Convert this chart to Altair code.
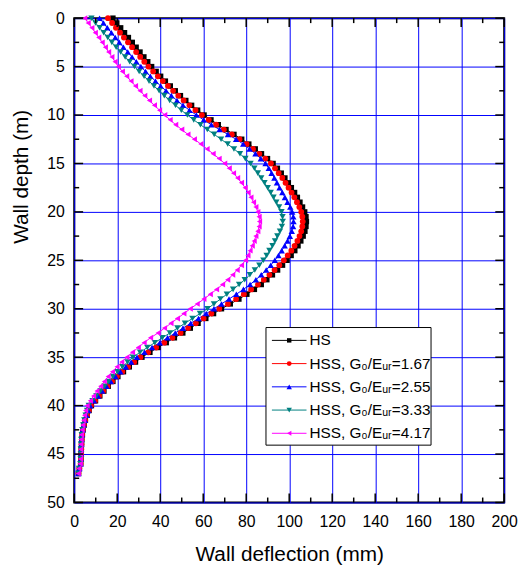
import altair as alt
import pandas as pd

# ---------------- data ----------------
depth_m = [0.0, 0.5, 1.0, 1.5, 2.0, 2.5, 3.0, 3.5, 4.0, 4.5,
           5.0, 5.5, 6.0, 6.5, 7.0, 7.5, 8.0, 8.5, 9.0, 9.5,
           10.0, 10.5, 11.0, 11.5, 12.0, 12.5, 13.0, 13.5, 14.0, 14.5,
           15.0, 15.5, 16.0, 16.5, 17.0, 17.5, 18.0, 18.5, 19.0, 19.5,
           20.0, 20.5, 21.0, 21.5, 22.0, 22.5, 23.0, 23.5, 24.0, 24.5,
           25.0, 25.5, 26.0, 26.5, 27.0, 27.5, 28.0, 28.5, 29.0, 29.5,
           30.0, 30.5, 31.0, 31.5, 32.0, 32.5, 33.0, 33.5, 34.0, 34.5,
           35.0, 35.5, 36.0, 36.5, 37.0, 37.5, 38.0, 38.5, 39.0, 39.5,
           40.0, 40.5, 41.0, 41.5, 42.0, 42.5, 43.0, 43.5, 44.0, 44.5,
           45.0, 45.5, 46.0, 46.5, 47.0]

hs = [18.0, 19.8, 21.6, 23.4, 25.2, 27.0, 28.8, 30.6, 32.4, 34.2,
      36.0, 38.1, 40.2, 42.4, 44.7, 47.0, 49.4, 51.9, 54.6, 57.4,
      60.4, 63.6, 67.0, 70.6, 74.3, 77.9, 81.2, 84.2, 87.1, 89.9,
      92.5, 94.5, 96.3, 98.0, 99.6, 101.0, 102.5, 103.8, 105.0, 106.2,
      107.2, 107.8, 108.0, 107.8, 107.3, 106.5, 105.4, 104.1, 102.6, 100.9,
      99.0, 96.9, 94.6, 92.2, 89.6, 87.0, 83.8, 80.3, 76.6, 72.6,
      68.5, 64.8, 61.2, 57.6, 54.0, 50.5, 46.6, 42.8, 39.0, 35.2,
      31.5, 28.5, 25.6, 22.9, 20.3, 18.0, 15.8, 13.8, 11.9, 9.9,
      8.0, 6.9, 6.0, 5.2, 4.6, 4.1, 3.8, 3.5, 3.4, 3.3,
      3.2, 3.1, 3.0, 2.4, 2.0]

hss_167 = [15.7, 17.6, 19.4, 21.3, 23.1, 25.0, 26.9, 28.8, 30.7, 32.6,
           34.5, 36.7, 38.9, 41.2, 43.6, 46.0, 48.4, 50.9, 53.6, 56.4,
           59.4, 62.6, 66.0, 69.6, 73.3, 76.9, 80.2, 83.2, 86.1, 88.9,
           91.5, 93.4, 95.1, 96.8, 98.3, 99.7, 101.1, 102.4, 103.6, 104.7,
           105.6, 106.1, 106.3, 106.1, 105.6, 104.8, 103.8, 102.5, 101.0, 99.3,
           97.5, 95.4, 93.2, 90.8, 88.2, 85.5, 82.3, 78.9, 75.3, 71.5,
           67.5, 63.8, 60.2, 56.6, 53.0, 49.5, 45.7, 41.9, 38.1, 34.4,
           30.8, 27.9, 25.1, 22.4, 19.9, 17.6, 15.5, 13.5, 11.6, 9.7,
           7.8, 6.8, 5.9, 5.1, 4.5, 4.0, 3.7, 3.5, 3.4, 3.3,
           3.2, 3.1, 3.0, 2.4, 2.0]

hss_255 = [11.8, 13.6, 15.4, 17.3, 19.1, 21.0, 22.9, 24.9, 26.9, 28.9,
           31.0, 33.2, 35.4, 37.8, 40.2, 42.7, 45.2, 47.8, 50.6, 53.6,
           56.8, 60.2, 63.8, 67.6, 71.5, 75.3, 78.6, 81.6, 84.3, 86.8,
           89.0, 90.5, 91.8, 93.1, 94.3, 95.5, 96.8, 98.0, 99.2, 100.5,
           101.4, 101.9, 102.0, 101.8, 101.2, 100.3, 99.2, 97.9, 96.5, 95.0,
           93.3, 91.4, 89.3, 87.0, 84.5, 81.8, 78.7, 75.4, 72.0, 68.5,
           65.0, 61.4, 57.8, 54.2, 50.6, 47.0, 43.4, 39.8, 36.2, 32.7,
           29.2, 26.5, 24.0, 21.5, 19.2, 17.0, 15.0, 13.0, 11.1, 9.2,
           7.4, 6.5, 5.7, 5.0, 4.4, 3.9, 3.6, 3.4, 3.3, 3.2,
           3.2, 3.1, 3.0, 2.4, 2.0]

hss_333 = [8.0, 9.9, 11.8, 13.7, 15.6, 17.5, 19.5, 21.6, 23.7, 25.8,
           28.0, 30.2, 32.5, 34.8, 37.1, 39.5, 41.9, 44.4, 47.1, 49.8,
           52.6, 55.6, 58.7, 61.9, 65.1, 68.3, 71.4, 74.3, 77.1, 79.6,
           82.0, 83.8, 85.4, 87.0, 88.5, 90.0, 91.4, 92.7, 94.0, 95.3,
           96.4, 96.9, 97.0, 96.6, 95.7, 94.5, 93.4, 92.2, 90.8, 89.5,
           88.0, 86.1, 84.0, 81.7, 79.3, 76.7, 73.9, 71.0, 68.0, 65.0,
           62.0, 58.5, 55.0, 51.5, 48.0, 44.5, 41.0, 37.5, 34.0, 30.6,
           27.3, 24.8, 22.4, 20.1, 18.0, 16.0, 14.1, 12.2, 10.3, 8.5,
           6.8, 6.0, 5.3, 4.7, 4.2, 3.8, 3.5, 3.3, 3.2, 3.1,
           3.1, 3.0, 2.9, 2.3, 2.0]

hss_417 = [4.9, 6.5, 8.2, 9.8, 11.4, 13.0, 14.5, 16.0, 17.5, 19.0,
           20.5, 22.4, 24.4, 26.4, 28.5, 30.6, 32.8, 35.0, 37.3, 39.7,
           42.1, 44.6, 47.2, 50.0, 52.9, 55.9, 58.9, 61.8, 64.6, 67.4,
           70.0, 72.1, 74.1, 76.0, 77.8, 79.5, 80.9, 82.2, 83.4, 84.5,
           85.4, 86.0, 86.2, 86.0, 85.4, 84.5, 83.7, 82.8, 81.8, 80.8,
           79.7, 77.8, 75.8, 73.7, 71.4, 69.0, 66.2, 63.3, 60.3, 57.2,
           54.0, 51.0, 48.0, 45.0, 42.0, 39.0, 35.5, 32.5, 29.8, 27.1,
           24.5, 22.1, 19.9, 17.8, 15.8, 14.0, 12.3, 10.6, 9.0, 7.5,
           6.0, 5.3, 4.8, 4.4, 4.0, 3.7, 3.4, 3.2, 3.1, 3.0,
           3.0, 2.9, 2.8, 2.2, 1.9]

series_names = ["HS",
                "HSS, G\u2080/E\u1d64\u1d63=1.67",
                "HSS, G\u2080/E\u1d64\u1d63=2.55",
                "HSS, G\u2080/E\u1d64\u1d63=3.33",
                "HSS, G\u2080/E\u1d64\u1d63=4.17"]
series_values = [hs, hss_167, hss_255, hss_333, hss_417]

x_major = [0, 20, 40, 60, 80, 100, 120, 140, 160, 180, 200]
x_minor = [10, 30, 50, 70, 90, 110, 130, 150, 170, 190]
y_major = [0, 5, 10, 15, 20, 25, 30, 35, 40, 45, 50]
y_minor = [2.5, 7.5, 12.5, 17.5, 22.5, 27.5, 32.5, 37.5, 42.5, 47.5]

# ---------------- styles ----------------
colors = ["#000000", "#ff0000", "#0000ff", "#008080", "#ff00ff"]
shapes = ["square", "circle", "triangle-up", "triangle-down", "triangle-left"]
sizes = [30, 34, 42, 42, 36]
legend_sizes = [20, 24, 30, 30, 26]

rows = []
for name, vals in zip(series_names, series_values):
    for d, v in zip(depth_m, vals):
        rows.append({"series": name, "x": v, "depth": d})
df = pd.DataFrame(rows)
leg_df = pd.DataFrame({"series": series_names})

W, H = 435, 490
FONT = "Liberation Sans"

x_scale = alt.Scale(domain=[0, 200], nice=False, zero=False)
y_scale = alt.Scale(domain=[0, 50], reverse=True, nice=False, zero=False)
color_scale = alt.Scale(domain=series_names, range=colors)

x_axis = alt.Axis(values=x_major, title="Wall deflection (mm)", ticks=False, domain=False,
                  grid=True, gridColor="#0000ff", gridWidth=1, gridOpacity=1,
                  labelFlush=False, labelOverlap=False,
                  labelFontSize=16, labelPadding=11, labelFont=FONT, labelColor="black",
                  titleFontSize=21, titleFont=FONT, titleFontWeight="normal", titleColor="black",
                  titleBaseline="alphabetic", titleY=59, titleX=W / 2, titleAlign="center")
y_axis = alt.Axis(values=y_major, title="Wall depth (m)", ticks=False, domain=False,
                  grid=True, gridColor="#0000ff", gridWidth=1, gridOpacity=1,
                  labelFlush=False, labelOverlap=False,
                  labelFontSize=16, labelPadding=10, labelFont=FONT, labelColor="black",
                  titleFontSize=21, titleFont=FONT, titleFontWeight="normal", titleColor="black",
                  titleAngle=270, titleBaseline="alphabetic", titleAlign="center",
                  titleX=-47, titleY=160)

lines = alt.Chart(df).mark_line(strokeWidth=1).encode(
    x=alt.X("x:Q", scale=x_scale, axis=x_axis),
    y=alt.Y("depth:Q", scale=y_scale, axis=y_axis),
    color=alt.Color("series:N", scale=color_scale, legend=None),
    order=alt.Order("depth:Q"),
)

point_layers = []
for name, shp, sz, col in zip(series_names, shapes, sizes, colors):
    point_layers.append(
        alt.Chart(df[df["series"] == name]).mark_point(
            filled=True, opacity=1, shape=shp, size=sz, color=col
        ).encode(
            x=alt.X("x:Q", scale=x_scale, axis=x_axis),
            y=alt.Y("depth:Q", scale=y_scale, axis=y_axis),
        )
    )


def xticks(vals, y0, y1):
    return alt.Chart(pd.DataFrame({"x": vals})).mark_rule(color="black", strokeWidth=1.5).encode(
        x=alt.X("x:Q", scale=x_scale, axis=x_axis), y=alt.value(y0), y2=alt.value(y1))


def yticks(vals, x0, x1):
    return alt.Chart(pd.DataFrame({"depth": vals})).mark_rule(color="black", strokeWidth=1.5).encode(
        y=alt.Y("depth:Q", scale=y_scale, axis=y_axis), x=alt.value(x0), x2=alt.value(x1))


tick_layers = [
    xticks(x_major, H, H - 9), xticks(x_minor, H, H - 5),
    xticks(x_major, 0, 9), xticks(x_minor, 0, 5),
    yticks(y_major, 0, 9), yticks(y_minor, 0, 5),
    yticks(y_major, W, W - 9), yticks(y_minor, W, W - 5),
]

# ---------------- legend box (drawn in plot-pixel coordinates) ----------------
LX0, LX1, LY0, LY1 = 194, 361, 313, 432
ROW0, ROWSTEP = 326, 23.5
SYM_X0, SYM_X1, TXT_X = 200, 235, 238

legend_layers = [
    alt.Chart(pd.DataFrame({"k": [0]})).mark_rect(fill="white", stroke="black", strokeWidth=1).encode(
        x=alt.value(LX0), x2=alt.value(LX1), y=alt.value(LY0), y2=alt.value(LY1))
]
for i, (name, shp, sz, col) in enumerate(zip(series_names, shapes, legend_sizes, colors)):
    yy = ROW0 + i * ROWSTEP
    one = alt.Chart(leg_df[leg_df["series"] == name])
    legend_layers.append(one.mark_rule(color=col, strokeWidth=1).encode(
        x=alt.value(SYM_X0), x2=alt.value(SYM_X1), y=alt.value(yy)))
    legend_layers.append(one.mark_point(filled=True, opacity=1, shape=shp, size=sz, color=col).encode(
        x=alt.value((SYM_X0 + SYM_X1) / 2), y=alt.value(yy)))
    legend_layers.append(one.mark_text(align="left", baseline="middle", font=FONT, fontSize=15.5,
                                       color="black").encode(
        x=alt.value(TXT_X), y=alt.value(yy), text=alt.Text("series:N")))

chart = alt.layer(lines, *point_layers, *tick_layers, *legend_layers).properties(
    width=W, height=H,
    autosize=alt.AutoSizeParams(type="none"),
    padding={"left": 67, "top": 7, "right": 16, "bottom": 62},
).configure_view(stroke="black", strokeWidth=2)

chart.save("out.html", embed_options={"renderer": "svg", "actions": False})
